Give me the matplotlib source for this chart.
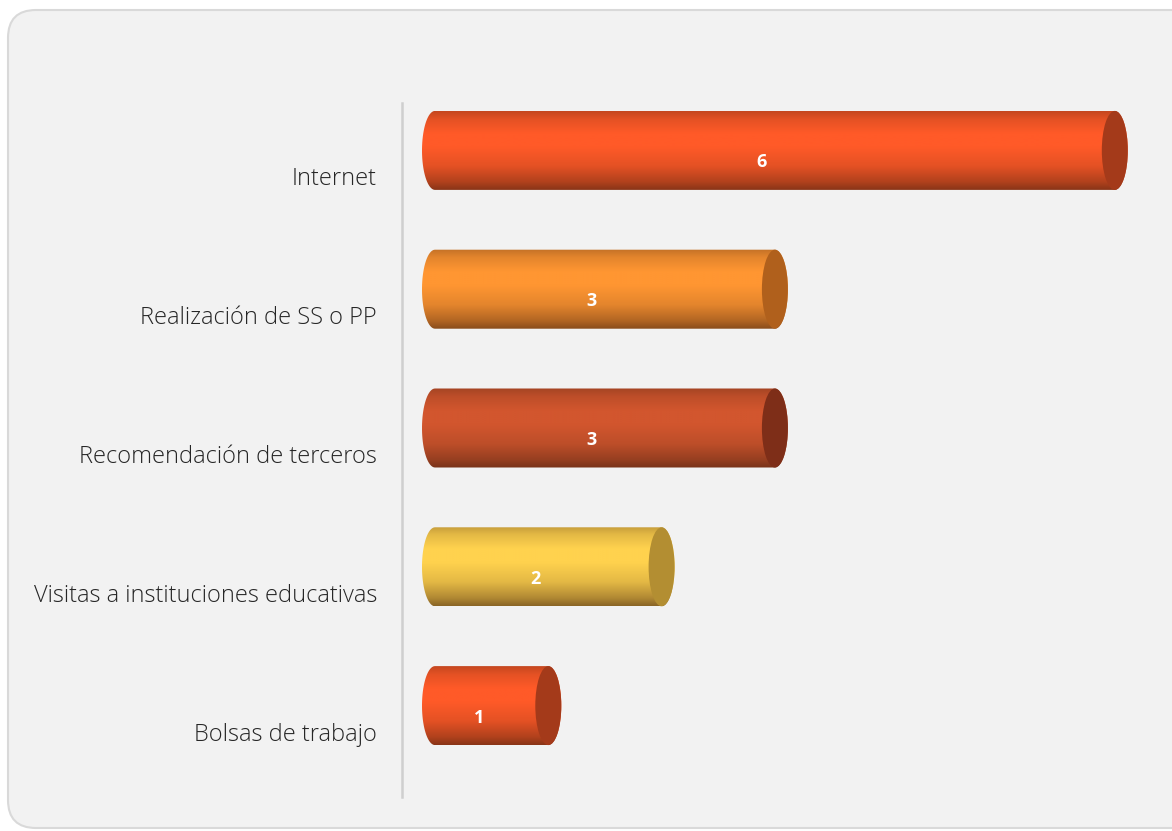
import matplotlib

matplotlib.use("Agg")
import matplotlib.pyplot as plt
import numpy as np
from matplotlib.colors import LinearSegmentedColormap, to_rgb
from matplotlib.patches import Ellipse, FancyBboxPatch, PathPatch
from matplotlib.path import Path
from matplotlib.transforms import ScaledTranslation

categories = [
    "Internet",
    "Realización de SS o PP",
    "Recomendación de terceros",
    "Visitas a instituciones educativas",
    "Bolsas de trabajo",
]
values = [6, 3, 3, 2, 1]

body_colors = ["#ff5a28", "#ff9632", "#d2562e", "#ffd24e", "#ff5a28"]
cap_colors = ["#a43a1a", "#b0601c", "#7e2e18", "#b38e32", "#a43a1a"]

W, H = 1172, 831
fig = plt.figure(figsize=(W / 100, H / 100), dpi=100, facecolor="white")

# rounded chart-area background, in pixel units
bg = fig.add_axes([0, 0, 1, 1], zorder=0)
bg.set_xlim(0, W)
bg.set_ylim(H, 0)
bg.axis("off")
bg.add_patch(FancyBboxPatch((8, 10), 1200, 818,
                            boxstyle="round,pad=0,rounding_size=28",
                            facecolor="#f2f2f2", edgecolor="#d9d9d9", lw=1.5))

ax_l, ax_r, ax_t, ax_b = 402, 1150, 103, 797
ax = fig.add_axes([ax_l / W, 1 - ax_b / H, (ax_r - ax_l) / W, (ax_b - ax_t) / H],
                  zorder=1)
ax.patch.set_visible(False)

px_per_unit = 113.3
x0 = -(435 - ax_l) / px_per_unit
n = len(categories)
band_px = (ax_b - ax_t) / n

for s in ["top", "right", "bottom"]:
    ax.spines[s].set_visible(False)
ax.spines["left"].set_color("#cfcfcf")
ax.spines["left"].set_linewidth(1.8)
ax.set_xticks([])
ax.set_yticks(range(n))
ax.set_yticklabels(categories, fontsize=17, color="#262626",
                   family=["Open Sans", "DejaVu Sans"], fontweight="light")
ax.tick_params(axis="y", length=0, pad=18)
for lab in ax.get_yticklabels():
    lab.set_transform(lab.get_transform() + ScaledTranslation(0, -4 / 100, fig.dpi_scale_trans))

a = 13 / px_per_unit          # half-width of the end ellipses
h = 79 / band_px               # bar thickness
shift = 22 / band_px           # 3D depth offset upward

# shading from top edge (0) to bottom edge (1): share of dark brown mixed in
prof_pos = [0.0, 0.1, 0.28, 0.45, 0.7, 0.9, 1.0]
prof_dark = [0.3, 0.14, 0.0, 0.0, 0.14, 0.4, 0.6]
dark = np.array(to_rgb("#3c1c0c"))

for i, (v, bc, cc) in enumerate(zip(values, body_colors, cap_colors)):
    yc = i - shift
    top, bot = yc - h / 2, yc + h / 2
    base = np.array(to_rgb(bc))
    cmap = LinearSegmentedColormap.from_list(
        f"c{i}", [(p, tuple(base * (1 - k) + dark * k)) for p, k in zip(prof_pos, prof_dark)])

    verts = [(0, top), (v, top)]
    verts += [(v + a * np.cos(tt), yc - (h / 2) * np.sin(tt))
              for tt in np.linspace(np.pi / 2, -np.pi / 2, 40)]
    verts += [(v, bot), (0, bot)]
    verts += [(a * np.cos(tt), yc - (h / 2) * np.sin(tt))
              for tt in np.linspace(-np.pi / 2, -3 * np.pi / 2, 40)]
    path = Path(verts + [verts[0]], closed=True)
    clip = PathPatch(path, facecolor="none", edgecolor="none", transform=ax.transData)
    ax.add_patch(clip)

    grad = np.linspace(1, 0, 200)[:, None]
    im = ax.imshow(grad, cmap=cmap, aspect="auto", interpolation="bilinear",
                   extent=[-a, v + a, top, bot], origin="upper", zorder=2)
    im.set_clip_path(clip)

    ax.add_patch(Ellipse((v, yc), 2 * a, h, facecolor=cc, edgecolor="none", zorder=3))

    ax.text(v / 2 - a, yc + 12 / band_px, str(v), color="white", fontsize=13,
            fontweight="bold", ha="center", va="center",
            family=["Open Sans", "DejaVu Sans"], zorder=4)

ax.set_xlim(x0, x0 + (ax_r - ax_l) / px_per_unit)
ax.set_ylim(n - 0.5, -0.5)

fig.savefig("out.png", dpi=100, facecolor=fig.get_facecolor())
